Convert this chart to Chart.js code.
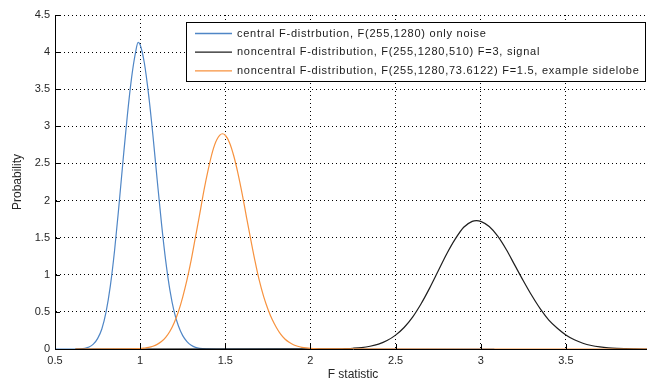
<!DOCTYPE html>
<html>
<head>
<meta charset="utf-8">
<script src="https://cdn.jsdelivr.net/npm/chart.js@4.4.0/dist/chart.umd.min.js"></script>
<style>
  html, body { margin: 0; padding: 0; background: #fff; overflow: hidden; }
  #wrap { width: 700px; height: 383px; }
</style>
</head>
<body>
<div id="wrap"><canvas id="chart" width="700" height="383"></canvas></div>
<script>
// Legend text for each curve
const seriesLabels = [
  "central F-distrbution, F(255,1280) only noise",
  "noncentral F-distribution, F(255,1280,510) F=3, signal",
  "noncentral F-distribution, F(255,1280,73.6122) F=1.5, example sidelobe",
];
const seriesColors = ["#4f86c6", "#1e1e1e", "#f7923e"];

// Central F(255,1280)
const centralX = [0.5, 0.6, 0.65, 0.675, 0.7, 0.725, 0.75, 0.775, 0.8, 0.825, 0.85, 0.875, 0.9, 0.925, 0.95,
  0.975, 0.988, 1.0, 1.025, 1.05, 1.075, 1.1, 1.125, 1.15, 1.175, 1.2, 1.225, 1.25, 1.275, 1.3,
  1.325, 1.35, 1.4, 1.45, 3.08];
const centralY = [0, 0, 0.003, 0.01, 0.027, 0.065, 0.14, 0.27, 0.50, 0.85, 1.33, 1.92, 2.55, 3.15, 3.66,
  4.02, 4.13, 4.10, 3.85, 3.42, 2.88, 2.28, 1.70, 1.19, 0.79, 0.50, 0.31, 0.18, 0.10, 0.05,
  0.022, 0.009, 0.002, 0, 0];

// Noncentral F(255,1280,510) - signal
const signalX = [0.62, 2.15, 2.2, 2.25, 2.3, 2.35, 2.4, 2.45, 2.5, 2.55, 2.6, 2.65, 2.7, 2.75, 2.8,
  2.85, 2.9, 2.95, 2.975, 3.0, 3.05, 3.1, 3.15, 3.2, 3.25, 3.3, 3.35, 3.4, 3.45, 3.5,
  3.55, 3.6, 3.65, 3.7, 3.75, 3.8, 3.85, 3.9, 3.96, 4.0];
const signalY = [0, 0.001, 0.005, 0.010, 0.019, 0.037, 0.066, 0.114, 0.187, 0.29, 0.43, 0.61, 0.82, 1.05, 1.28,
  1.48, 1.64, 1.72, 1.73, 1.72, 1.65, 1.52, 1.34, 1.13, 0.92, 0.72, 0.54, 0.39, 0.28, 0.19,
  0.125, 0.078, 0.047, 0.028, 0.016, 0.009, 0.005, 0.002, 0, 0];

// Noncentral F(255,1280,73.6122) - sidelobe
const sidelobeX = [0.62, 1.0, 1.025, 1.05, 1.075, 1.1, 1.125, 1.15, 1.175, 1.2, 1.225, 1.25, 1.275, 1.3, 1.325,
  1.35, 1.375, 1.4, 1.425, 1.45, 1.483, 1.5, 1.525, 1.55, 1.575, 1.6, 1.625, 1.65, 1.675, 1.7,
  1.725, 1.75, 1.775, 1.8, 1.825, 1.85, 1.875, 1.9, 1.925, 1.95, 1.975, 2.0, 2.05, 2.1, 4.0];
const sidelobeY = [0, 0.006, 0.012, 0.021, 0.037, 0.062, 0.10, 0.158, 0.24, 0.355, 0.505, 0.70, 0.93, 1.20, 1.51,
  1.82, 2.14, 2.42, 2.66, 2.82, 2.90, 2.88, 2.78, 2.60, 2.36, 2.08, 1.77, 1.47, 1.18, 0.92,
  0.71, 0.54, 0.40, 0.29, 0.20, 0.135, 0.09, 0.058, 0.037, 0.023, 0.014, 0.008, 0.003, 0.001, 0];

// Axis ranges and ticks
const xRange = [0.5, 4];
const yRange = [0, 4.5];
const tickStep = 0.5;

const toPoints = (xs, ys) => xs.map((x, i) => ({ x: x, y: ys[i] }));

Chart.defaults.font.family = "'Liberation Sans', Arial, sans-serif";
Chart.defaults.font.size = 11;
Chart.defaults.color = "#262626";

// Inward tick marks (matlab style) and the boxed legend inside the plot
const matlabAxes = {
  id: "matlabAxes",
  afterDatasetsDraw(chart) {
    const { ctx, chartArea: a, scales: { x, y } } = chart;
    ctx.save();
    ctx.strokeStyle = "#000";
    ctx.lineWidth = 1;
    ctx.beginPath();
    x.ticks.forEach((t) => {
      const px = Math.round(x.getPixelForValue(t.value)) + 0.5;
      ctx.moveTo(px, a.bottom);
      ctx.lineTo(px, a.bottom - 5);
    });
    y.ticks.forEach((t) => {
      const py = Math.round(y.getPixelForValue(t.value)) + 0.5;
      ctx.moveTo(a.left, py);
      ctx.lineTo(a.left + 5, py);
    });
    ctx.stroke();

    // legend box
    const bx = 186.5, by = 22.5, bw = 459, bh = 59;
    ctx.fillStyle = "#fff";
    ctx.fillRect(bx, by, bw, bh);
    ctx.strokeStyle = "#000";
    ctx.strokeRect(bx, by, bw, bh);
    ctx.font = "11px 'Liberation Sans', Arial, sans-serif";
    ctx.letterSpacing = "0.75px";
    ctx.textBaseline = "middle";
    ctx.textAlign = "left";
    chart.data.datasets.forEach((ds, i) => {
      const ry = 33.5 + i * 18.7;
      ctx.strokeStyle = ds.borderColor;
      ctx.lineWidth = 1.3;
      ctx.beginPath();
      ctx.moveTo(195, ry);
      ctx.lineTo(232, ry);
      ctx.stroke();
      ctx.fillStyle = "#1a1a1a";
      ctx.fillText(ds.label, 237, ry);
    });
    ctx.restore();
  },
};

const fmt = (v) => String(+v.toFixed(2));

new Chart(document.getElementById("chart"), {
  type: "line",
  plugins: [matlabAxes],
  data: {
    datasets: [
      { label: seriesLabels[0], data: toPoints(centralX, centralY), borderColor: seriesColors[0], order: 2 },
      { label: seriesLabels[1], data: toPoints(signalX, signalY), borderColor: seriesColors[1], order: 1 },
      { label: seriesLabels[2], data: toPoints(sidelobeX, sidelobeY), borderColor: seriesColors[2], order: 0 },
    ],
  },
  options: {
    responsive: false,
    animation: false,
    layout: { padding: { top: 15, right: 49, left: 0, bottom: 0 } },
    elements: {
      point: { radius: 0 },
      line: { borderWidth: 1.2, cubicInterpolationMode: "monotone", fill: false },
    },
    plugins: { legend: { display: false }, tooltip: { enabled: false } },
    scales: {
      x: {
        type: "linear",
        min: xRange[0],
        max: xRange[1],
        // last tick (4) sits past the cropped right edge
        ticks: { stepSize: tickStep, padding: 5, maxRotation: 0, callback: (v) => (v >= 4 ? "" : fmt(v)) },
        grid: { color: "#000", drawTicks: false },
        border: { color: "#000", dash: [1, 3] },
        title: { display: true, text: "F statistic", font: { size: 12 }, padding: { top: 0, bottom: 0.8 } },
        afterFit: (s) => { s.height = 34; },
      },
      y: {
        min: yRange[0],
        max: yRange[1],
        ticks: { stepSize: tickStep, padding: 5, callback: fmt },
        grid: { color: "#000", drawTicks: false },
        border: { color: "#000", dash: [1, 3] },
        title: { display: true, text: "Probability", font: { size: 12 }, padding: { top: 10.8, bottom: 0 } },
        afterFit: (s) => { s.width = 55; },
      },
    },
  },
});
</script>
</body>
</html>
